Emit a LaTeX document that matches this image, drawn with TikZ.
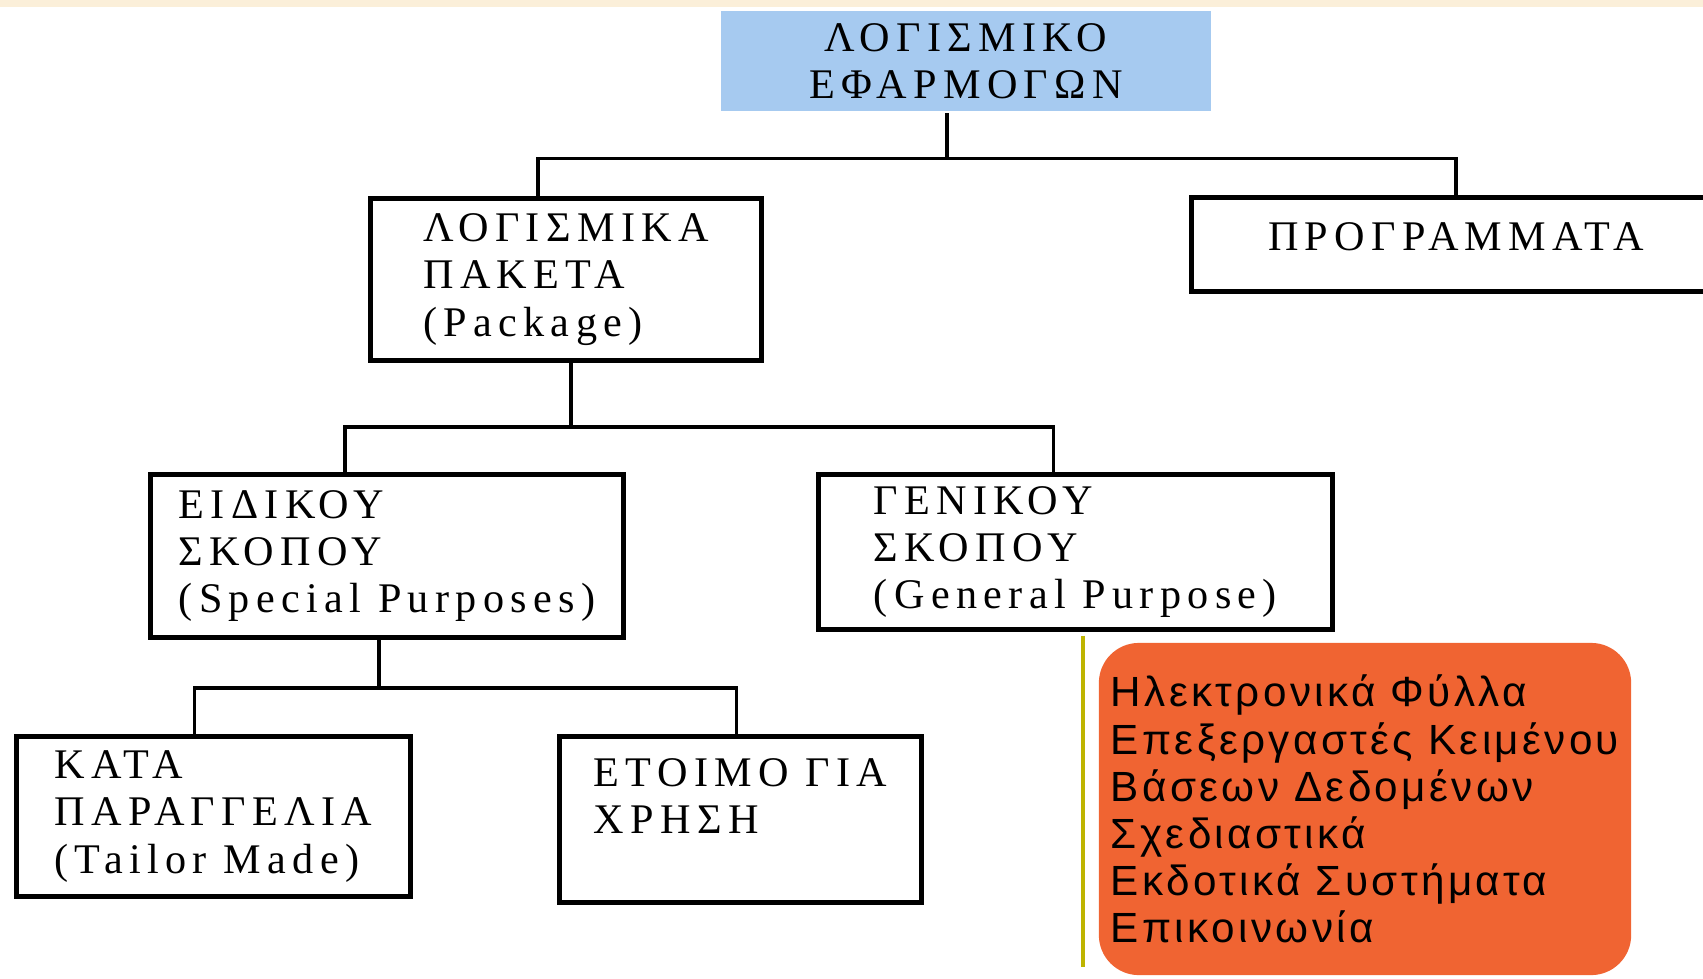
\documentclass[tikz,border=0pt]{standalone}
\usepackage{fontspec}
\usepackage{tikz}
\newfontfamily\boxfont[LetterSpace=15]{Liberation Serif}
\newfontfamily\listfont[LetterSpace=8]{Liberation Sans}
\definecolor{skyblue}{RGB}{166,202,240}
\definecolor{band}{RGB}{251,239,217}
\definecolor{dither}{RGB}{240,100,50}
\definecolor{oliveline}{RGB}{190,180,0}
\tikzset{box/.style = {draw, line width = 1.4pt, inner sep = 0, align = left,
                       font = \boxfont\fontsize{12}{13.4}\selectfont}}
\tikzset{link/.style = {line width = 0.9pt}}
\tikzset{hint/.style = {draw = oliveline, line width = 0.9pt}}

\begin{document}
\begin{tikzpicture}[x = 0.01cm, y = -0.01cm]
    \useasboundingbox (0, 0) rectangle (1703, 978);
    \fill [band] (0, 0) rectangle (1703, 7);

    \node [box, draw = none, fill = skyblue, align = center, minimum width = 4.9cm, minimum height = 1cm] (apps) at (966, 61) {ΛΟΓΙΣΜΙΚΟ\\ΕΦΑΡΜΟΓΩΝ};
    \node [box, minimum width = 3.91cm, minimum height = 1.62cm] (pkg) at (566, 279.5) {ΛΟΓΙΣΜΙΚΑ\\ΠΑΚΕΤΑ\\(Package)};
    \node [box, minimum width = 5.29cm, minimum height = 0.94cm, text depth = 0.16cm] (prog) at (1456, 244.5) {ΠΡΟΓΡΑΜΜΑΤΑ};
    \node [box, minimum width = 4.73cm, minimum height = 1.63cm] (eid) at (387, 556) {ΕΙΔΙΚΟΥ\\ΣΚΟΠΟΥ\\(Special Purposes)};
    \node [box, minimum width = 5.14cm, minimum height = 1.55cm] (gen) at (1075.5, 552) {ΓΕΝΙΚΟΥ\\ΣΚΟΠΟΥ\\(General Purpose)};
    \node [box, minimum width = 3.94cm, minimum height = 1.6cm] (kata) at (213.5, 816.5) {ΚΑΤΑ\\ΠΑΡΑΓΓΕΛΙΑ\\(Tailor Made)};
    \node [box, minimum width = 3.62cm, minimum height = 1.66cm] (etoimo) at (740.5, 819.5) {ΕΤΟΙΜΟ ΓΙΑ\\ΧΡΗΣΗ\\ \mbox{}};
    \node [box, draw = none, fill = dither, rounded corners = 0.4cm, font = \listfont\fontsize{12}{13.4}\selectfont,
           minimum width = 5.32cm, minimum height = 3.32cm] (uses) at (1365, 809)
          {Ηλεκτρονικά Φύλλα\\Επεξεργαστές Κειμένου\\Βάσεων Δεδομένων\\Σχεδιαστικά\\Εκδοτικά Συστήματα\\Επικοινωνία};

    \draw [link] ([xshift = -1.9mm]apps.south) -- ++(0, 45) -| ([xshift = -2.8mm]pkg.north);
    \draw [link] ([xshift = -1.9mm]apps.south) -- ++(0, 45) -| (prog.north);
    \draw [link] ([xshift = 0.5mm]pkg.south) -- ++(0, 64) -| ([xshift = -4.2mm]eid.north);
    \draw [link] ([xshift = 0.5mm]pkg.south) -- ++(0, 64) -| ([xshift = -2.2mm]gen.north);
    \draw [link] ([xshift = -0.8mm]eid.south) -- ++(0, 48) -| ([xshift = -1.9mm]kata.north);
    \draw [link] ([xshift = -0.8mm]eid.south) -- ++(0, 48) -| ([xshift = -0.4mm]etoimo.north);
    \draw [hint, shorten <= 1pt] ([xshift = 0.75mm]gen.south) -- ++(0, 335);
\end{tikzpicture}
\end{document}
